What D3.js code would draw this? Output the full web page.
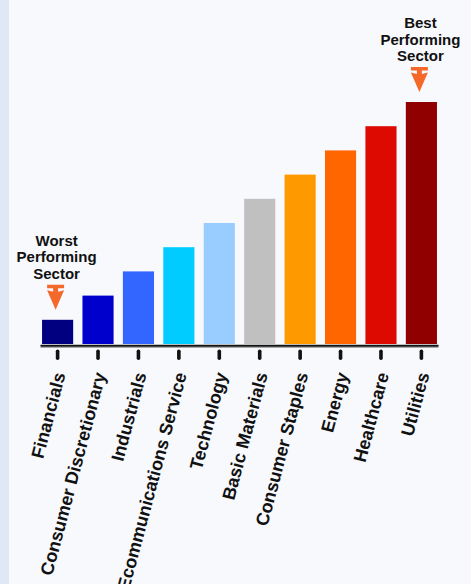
<!DOCTYPE html>
<html>
<head>
<meta charset="utf-8">
<script src="https://cdn.jsdelivr.net/npm/d3@7"></script>
<style>
  html, body { margin: 0; padding: 0; background: #f7f9fd; }
  svg { display: block; }
</style>
</head>
<body>
<div id="chart"></div>
<script>
// data
const sectors = ["Financials", "Consumer Discretionary", "Industrials", "Ecommunications Service",
    "Technology", "Basic Materials", "Consumer Staples", "Energy", "Healthcare", "Utilities"];
const values = [1, 2, 3, 4, 5, 6, 7, 8, 9, 10];
const barColors = ["#000080", "#0000cc", "#3366ff", "#00ccff", "#99ccff",
    "#c0c0c0", "#ff9900", "#ff6600", "#dd0a02", "#900000"];
const notes = [
    { sector: "Financials", lines: ["Worst", "Performing", "Sector"] },
    { sector: "Utilities", lines: ["Best", "Performing", "Sector"] }
];

const width = 471,
    height = 584,
    baseY = 344;

let svg = d3.select("#chart")
    .append("svg")
    .attr("width", width)
    .attr("height", height);

svg.append("rect")
    .attr("width", width)
    .attr("height", height)
    .attr("fill", "#f7f9fd");

// light strip on the left edge
svg.append("rect")
    .attr("width", 9)
    .attr("height", height)
    .attr("fill", "#dfe9f6");

let x = d3.scaleBand()
    .domain(sectors)
    .range([38, 441])
    .paddingInner(0.23)
    .paddingOuter(0.1);

let y = d3.scaleLinear()
    .domain([0, 10])
    .range([baseY, 102]);

// bars
svg.selectAll(".bar")
    .data(sectors)
    .enter()
    .append("rect")
    .attr("class", "bar")
    .attr("x", function (d) { return x(d); })
    .attr("y", function (d, i) { return y(values[i]); })
    .attr("width", x.bandwidth())
    .attr("height", function (d, i) { return baseY - y(values[i]); })
    .attr("fill", function (d, i) { return barColors[i]; });

// axis
let axis = svg.append("g")
    .attr("transform", "translate(0," + (baseY + 1.8) + ")")
    .call(d3.axisBottom(x).tickSizeOuter(0).tickSize(0).tickFormat(""));

axis.select(".domain")
    .attr("d", "M40.5,0H438.5")
    .attr("stroke", "#111")
    .attr("stroke-width", 2);

axis.insert("path", ".domain")
    .attr("d", "M40.5,1.6H438.5")
    .attr("stroke", "#aaa")
    .attr("stroke-width", 1.2);

axis.selectAll(".tick line")
    .attr("y1", 5.5)
    .attr("y2", 12.5)
    .attr("stroke", "#111")
    .attr("stroke-width", 3.6)
    .attr("stroke-linecap", "round");

axis.selectAll(".tick")
    .append("text")
    .attr("fill", "#111")
    .attr("transform", "translate(2,27) rotate(-75)")
    .attr("text-anchor", "end")
    .attr("dy", "0.35em")
    .style("font-family", "'Liberation Sans', Arial, sans-serif")
    .style("font-size", "18px")
    .style("font-weight", "bold")
    .text(function (d) { return d; });

// worst / best notes with arrows
let note = svg.selectAll(".note")
    .data(notes)
    .enter()
    .append("g")
    .attr("class", "note")
    .attr("transform", function (d) {
        let i = sectors.indexOf(d.sector);
        return "translate(" + (x(d.sector) + x.bandwidth() / 2 - 2) + "," + y(values[i]) + ")";
    });

note.append("text")
    .attr("text-anchor", "middle")
    .attr("fill", "#111")
    .style("font-family", "'Liberation Sans', Arial, sans-serif")
    .style("font-size", "15px")
    .style("font-weight", "bold")
    .selectAll("tspan")
    .data(function (d) { return d.lines; })
    .enter()
    .append("tspan")
    .attr("x", 1)
    .attr("y", function (d, i) { return -74 + i * 16.5; })
    .text(function (d) { return d; });

note.append("path")
    .attr("fill", "#f4692a")
    .attr("d", "M-8.5,-35H8.5V-31.5H2.5V-28L8.5,-29.5L0,-10L-8.5,-29.5L-2.5,-28V-31.5H-8.5Z");
</script>
</body>
</html>
